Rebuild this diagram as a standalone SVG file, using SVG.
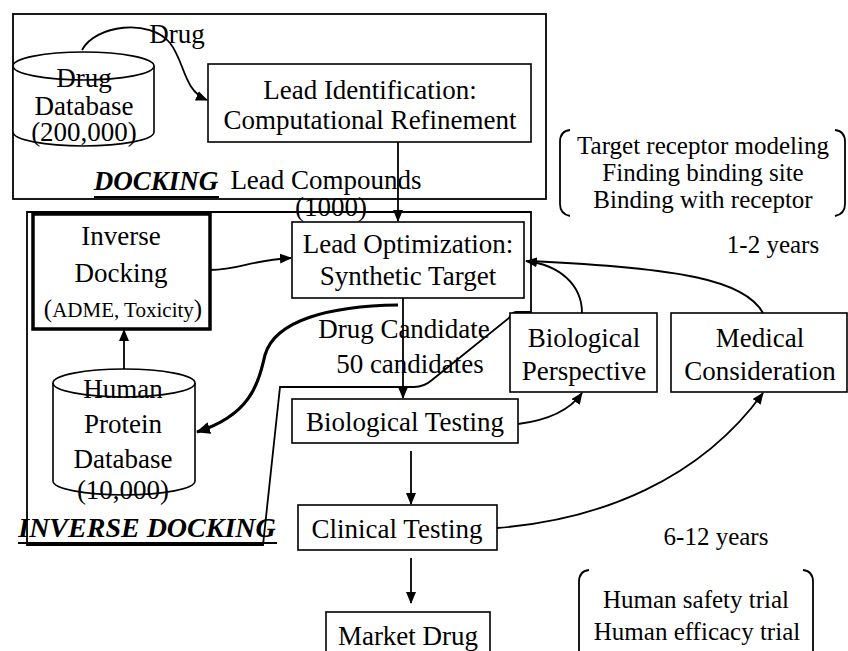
<svg xmlns="http://www.w3.org/2000/svg" width="848" height="651" viewBox="0 0 848 651">
<style>
text{font-family:"Liberation Serif","Times New Roman",serif;font-size:27px;fill:#000;text-anchor:middle}
.sm{font-size:25px}
.bi{font-weight:bold;font-style:italic}
.ul{stroke:#000;stroke-width:2}
.box{fill:#fff;stroke:#000;stroke-width:1.6}
.reg{fill:none;stroke:#000;stroke-width:1.8}
.cn{fill:none;stroke:#000;stroke-width:1.8}
.thick{fill:none;stroke:#000;stroke-width:3.2}
.br{fill:none;stroke:#000;stroke-width:1.8}
</style>
<defs>
<marker id="ah" viewBox="0 0 12 10" refX="11" refY="5" markerWidth="12" markerHeight="10" markerUnits="userSpaceOnUse" orient="auto">
<path d="M0,0 L12,5 L0,10 Z" fill="#000"/>
</marker>
<marker id="ahb" viewBox="0 0 14 12" refX="13" refY="6" markerWidth="14" markerHeight="12" markerUnits="userSpaceOnUse" orient="auto">
<path d="M0,0 L14,6 L0,12 Z" fill="#000"/>
</marker>
</defs>
<rect width="848" height="651" fill="#fff"/>

<g id="docking-region">
<rect class="reg" x="13" y="14" width="533" height="185"/>
<text class="bi" x="156" y="190">DOCKING</text>
<line class="ul" x1="94" y1="197" x2="219" y2="197"/>
</g>

<g id="inverse-docking-region">
<path class="reg" d="M27 212 H531 V312 H516 Q511 313 509 318 L432 380 Q424 387 414 387 H280 L263 545 H27 Z"/>
<text class="bi" x="147" y="537" style="font-size:28px">INVERSE DOCKING</text>
<line class="ul" x1="18" y1="543" x2="277" y2="543"/>
</g>

<g id="drug-database">
<path class="box" d="M13 66 V132 A70.5 14 0 0 0 154 132 V66"/>
<ellipse class="box" cx="83.5" cy="66" rx="70.5" ry="14"/>
<text x="84" y="87">Drug</text>
<text x="84" y="115">Database</text>
<text x="84" y="141">(200,000)</text>
</g>

<g id="lead-identification">
<rect class="box" x="208" y="64" width="323" height="78"/>
<text x="370" y="99">Lead Identification:</text>
<text x="370" y="129">Computational Refinement</text>
</g>

<g id="lead-compounds-label">
<text x="326" y="189">Lead Compounds</text>
<text x="331" y="216">(1000)</text>
</g>

<g id="target-note">
<path class="br" d="M570 130 Q560 131 560 142 V204 Q560 214 570 216"/>
<path class="br" d="M835 130 Q845 131 845 142 V204 Q845 214 835 216"/>
<text class="sm" x="703" y="154">Target receptor modeling</text>
<text class="sm" x="703" y="181">Finding binding site</text>
<text class="sm" x="703" y="208">Binding with receptor</text>
</g>

<g id="years-1-2">
<text class="sm" x="773" y="253">1-2 years</text>
</g>

<g id="inverse-docking">
<rect x="33" y="214" width="177" height="115" fill="#fff" stroke="#000" stroke-width="3.5"/>
<text x="121" y="245">Inverse</text>
<text x="121" y="282">Docking</text>
<text x="123" y="317" style="font-size:21px"><tspan style="font-size:25px">(</tspan>ADME, Toxicity<tspan style="font-size:25px">)</tspan></text>
</g>

<g id="lead-optimization">
<rect class="box" x="292" y="222" width="232" height="76"/>
<text x="408" y="253">Lead Optimization:</text>
<text x="408" y="285">Synthetic Target</text>
</g>

<g id="drug-candidate-label">
<text x="404" y="338">Drug Candidate</text>
<text x="410" y="373">50 candidates</text>
</g>

<g id="human-protein-database">
<path class="box" d="M53 383 V481 A71 14 0 0 0 195 481 V383"/>
<ellipse class="box" cx="124" cy="383" rx="71" ry="14"/>
<text x="123" y="398">Human</text>
<text x="123" y="433">Protein</text>
<text x="123" y="468">Database</text>
<text x="123" y="499">(10,000)</text>
</g>

<g id="biological-perspective">
<rect class="box" x="510" y="313" width="147" height="79"/>
<text x="584" y="347">Biological</text>
<text x="584" y="380">Perspective</text>
</g>

<g id="medical-consideration">
<rect class="box" x="671" y="313" width="176" height="79"/>
<text x="760" y="347">Medical</text>
<text x="760" y="380">Consideration</text>
</g>

<g id="biological-testing">
<rect class="box" x="292" y="399" width="226" height="44"/>
<text x="405" y="431">Biological Testing</text>
</g>

<g id="clinical-testing">
<rect class="box" x="298" y="505" width="199" height="45"/>
<text x="397" y="538">Clinical Testing</text>
</g>

<g id="years-6-12">
<text class="sm" x="716" y="545">6-12 years</text>
</g>

<g id="market-drug">
<rect class="box" x="326" y="612" width="164" height="60"/>
<text x="408" y="645">Market Drug</text>
</g>

<g id="human-trial-note">
<path class="br" d="M589 570 Q579 571 579 582 V660"/>
<path class="br" d="M803 570 Q813 571 813 582 V660"/>
<text class="sm" x="696" y="608">Human safety trial</text>
<text class="sm" x="697" y="640">Human efficacy trial</text>
</g>

<g id="connectors">
<path class="cn" d="M82 50 C95 25 150 18 170 43 C185 62 183 90 207 100" marker-end="url(#ah)"/>
<text x="177" y="43">Drug</text>
<path class="cn" d="M398 142 V221" marker-end="url(#ah)"/>
<path class="cn" d="M210 270 C240 270 250 260 291 258" marker-end="url(#ah)"/>
<path class="cn" d="M124 369 V330" marker-end="url(#ah)"/>
<path class="cn" d="M403 298 V398" marker-end="url(#ah)"/>
<path class="thick" d="M398 305 C330 306 275 320 265 355 C258 385 250 415 197 432" marker-end="url(#ahb)"/>
<path class="cn" d="M582 313 C582 285 560 265 526 261" marker-end="url(#ah)"/>
<path class="cn" d="M763 313 C745 280 680 268 530 261"/>
<path class="cn" d="M518 424 C550 420 570 410 582 393" marker-end="url(#ah)"/>
<path class="cn" d="M411 451 V504" marker-end="url(#ah)"/>
<path class="cn" d="M497 528 C600 520 700 480 763 393" marker-end="url(#ah)"/>
<path class="cn" d="M411 558 V603" marker-end="url(#ah)"/>
</g>
</svg>
